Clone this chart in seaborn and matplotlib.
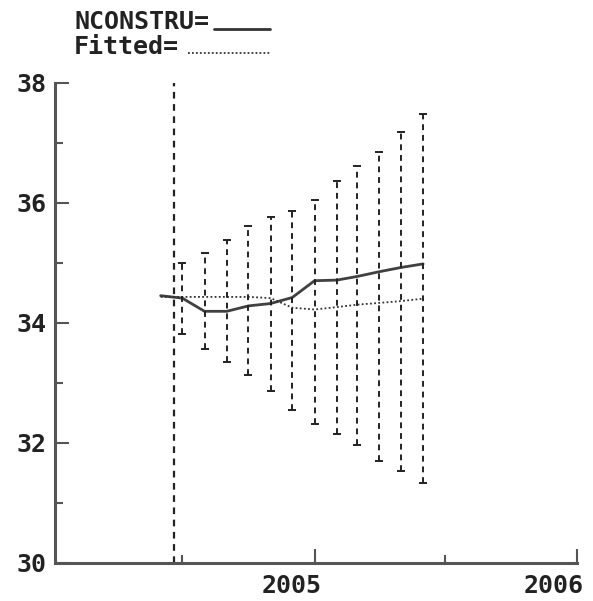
import matplotlib
matplotlib.use("Agg")
import matplotlib.pyplot as plt
from matplotlib.lines import Line2D
from matplotlib.transforms import ScaledTranslation
import pandas as pd
import seaborn as sns

# monthly series, Jun 2004 .. Jun 2005
months = ["2004-06", "2004-07", "2004-08", "2004-09", "2004-10", "2004-11", "2004-12",
          "2005-01", "2005-02", "2005-03", "2005-04", "2005-05", "2005-06"]
nconstru = [34.45, 34.41, 34.19, 34.19, 34.28, 34.32, 34.42,
            34.70, 34.71, 34.77, 34.85, 34.92, 34.98]
fitted = [34.43, 34.43, 34.43, 34.43, 34.43, 34.41, 34.25,
          34.22, 34.26, 34.30, 34.33, 34.36, 34.40]

# forecast bands (Jul 2004 .. Jun 2005)
band_months = months[1:]
upper = [34.99, 35.16, 35.38, 35.61, 35.76, 35.86, 36.05, 36.37, 36.61, 36.85, 37.17, 37.48]
lower = [33.82, 33.57, 33.35, 33.13, 32.86, 32.55, 32.32, 32.14, 31.96, 31.70, 31.53, 31.33]

marker_date = "2004-06-19"
y_ticks = [30, 32, 34, 36, 38]
y_minor = [31, 33, 35, 37]
x_ticks = ["2005-01-01", "2006-01-01"]
x_tick_labels = ["2005", "2006"]
x_minor = ["2004-07-01", "2005-07-01"]

sns.set_style("ticks")
plt.rcParams["font.family"] = ["DejaVu Sans Mono"]
plt.rcParams["font.weight"] = "bold"

df = pd.DataFrame({"month": pd.to_datetime(months), "NCONSTRU": nconstru, "Fitted": fitted})
bands = pd.DataFrame({"month": pd.to_datetime(band_months), "upper": upper, "lower": lower})

fig = plt.figure(figsize=(5.93, 6.01), dpi=100)
ax = fig.add_axes([0.0927, 0.0637, 0.8803, 0.7987])

sns.lineplot(data=df, x="month", y="NCONSTRU", color="#404040", lw=2.0, ax=ax)
sns.lineplot(data=df, x="month", y="Fitted", color="#333333", lw=1.3,
             linestyle=(0, (1, 1.3)), ax=ax)

ax.vlines(bands["month"], bands["lower"], bands["upper"], colors="#222222",
          linestyles=(0, (3, 2.5)), lw=1.4)
ax.plot(bands["month"], bands["upper"], ls="none", marker="_", ms=6, mew=1.4, color="#222222")
ax.plot(bands["month"], bands["lower"], ls="none", marker="_", ms=6, mew=1.4, color="#222222")
ax.vlines([pd.Timestamp(marker_date)], 30, 38, colors="#222222",
          linestyles=(0, (3, 2.5)), lw=1.6)

ax.set_xlim(pd.Timestamp("2004-01-06"), pd.Timestamp("2006-01-01"))
ax.set_ylim(30, 38)
ax.set_xticks(pd.to_datetime(x_ticks), x_tick_labels)
ax.set_xticks(pd.to_datetime(x_minor), minor=True)
ax.set_yticks(y_ticks, [str(v) for v in y_ticks])
ax.set_yticks(y_minor, minor=True)
ax.set_xlabel("")
ax.set_ylabel("")

ax.tick_params(which="both", direction="in", color="#555555", width=1.5,
               labelsize=18, labelcolor="#222222")
ax.tick_params(which="major", length=10)
ax.tick_params(which="minor", length=6)
ax.tick_params(axis="y", pad=6)
ax.tick_params(axis="x", pad=8)
for lbl in ax.get_xticklabels():
    lbl.set_ha("right")
    lbl.set_transform(lbl.get_transform() + ScaledTranslation(7 / 100, 0, fig.dpi_scale_trans))

sns.despine(ax=ax)
for side in ["left", "bottom"]:
    ax.spines[side].set_color("#555555")
    ax.spines[side].set_linewidth(2.2)

# legend header
fig.text(74 / 593, 1 - 29 / 601, "NCONSTRU=", fontsize=18, color="#222222", va="baseline")
fig.text(74 / 593, 1 - 54 / 601, "Fitted=", fontsize=18, color="#222222", va="baseline")
fig.add_artist(Line2D([214 / 593, 270 / 593], [1 - 29 / 601] * 2, transform=fig.transFigure,
                      color="#333333", lw=2.0))
fig.add_artist(Line2D([188 / 593, 270 / 593], [1 - 53 / 601] * 2, transform=fig.transFigure,
                      color="#333333", lw=1.3, linestyle=(0, (1, 1.2))))

fig.savefig("out.png", dpi=100)
